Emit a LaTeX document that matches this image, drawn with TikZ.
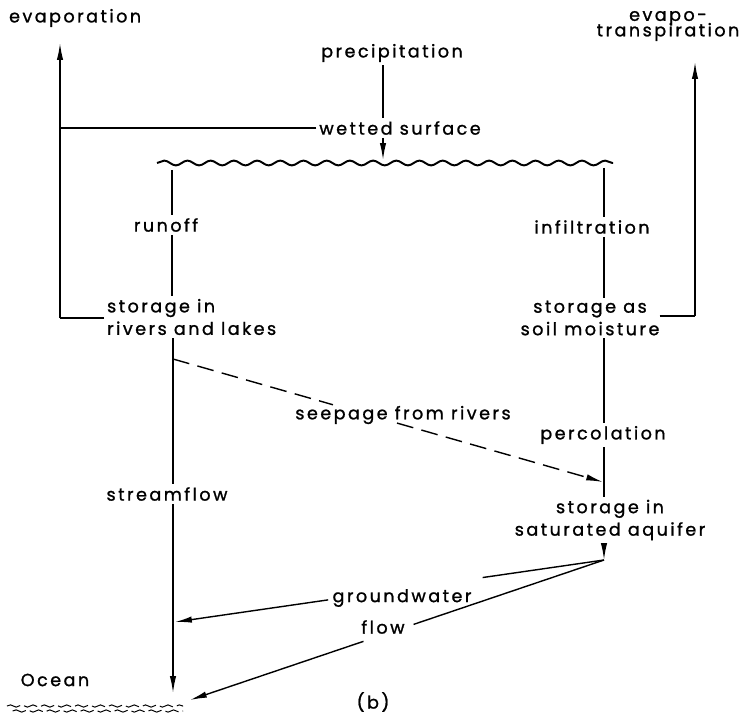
\documentclass[tikz,border=0pt]{standalone}
\usepackage{fontspec}
\setmainfont{Poppins}[LetterSpace=14,FakeBold=1.2]
\usetikzlibrary{arrows.meta,calc,decorations.pathmorphing}

\begin{document}
\begin{tikzpicture}[x=0.025cm,y=-0.025cm,
	lbl/.style={font=\fontsize{12.5}{16}\selectfont,inner sep=2pt,align=center},
	ln/.style={line width=1pt},
	arr/.style={ln,-{Latex[length=12pt,width=4.5pt]}},
	wave/.style={line width=1.4pt,decorate,decoration={snake,segment length=0.58cm,amplitude=0.06cm}},
	sea/.style={line width=0.7pt,decorate,decoration={snake,segment length=8pt,amplitude=0.8pt},dash pattern=on 10pt off 3pt}]
	\useasboundingbox (0,0) rectangle (753,715);
	% labels
	\node[lbl,anchor=west] (evap) at (6,18) {evaporation};
	\node[lbl] (evtr) at (668,26) {evapo-\\[-5pt]transpiration};
	\node[lbl] (prec) at (392,53) {precipitation};
	\node[lbl] (wet) at (400,128) {wetted surface};
	\node[lbl] (runoff) at (166,225) {runoff};
	\node[lbl] (infil) at (592,227) {infiltration};
	\node[lbl,align=left,anchor=west] (sriv) at (104,317) {storage in\\rivers and lakes};
	\node[lbl] (ssoil) at (590,318) {storage as\\soil moisture};
	\node[lbl] (perc) at (603,435) {percolation};
	\node[lbl] (stream) at (167,494) {streamflow};
	\node[lbl] (saq) at (610,520) {storage in\\saturated aquifer};
	\node[lbl] (gw) at (402,598) {groundwater};
	\node[lbl] (flw) at (383,627) {flow};
	\node[lbl] (ocean) at (55,680) {Ocean};
	\node[lbl] (cap) at (373,702) {(b)};
	% points
	\coordinate (sl) at (157,163);
	\coordinate (sr) at (613,163);
	\coordinate (sm) at (383,160);
	\coordinate (lx) at (172,170);
	\coordinate (rx) at (604,168);
	\coordinate (evb) at (60,318);
	\coordinate (evt) at (60,43);
	\coordinate (etb) at (695,316);
	\coordinate (ett) at (695,62);
	\coordinate (sa) at (173,359);
	\coordinate (sb) at (603,482);
	\coordinate (aq) at (604,560);
	\coordinate (sfj) at (175,622);
	\coordinate (sfe) at (173,693);
	\coordinate (oc) at (190,700);
	% ground surface and sea
	\draw[wave] (sl) -- (sr);
	\draw[sea] (7,706) -- (183,706);
	\draw[sea] ([xshift=4pt]7,711) -- (183,711);
	% precipitation
	\draw[ln] (prec.south -| sm) -- (wet.north -| sm);
	\draw[arr] (wet.south -| sm) -- (sm);
	% evaporation
	\draw[ln] (sriv.west |- evb) -- ++(-8pt,0) -| (evb);
	\draw[arr] (evb) -- (evt);
	\draw[ln] (wet.west) -- (wet.west -| evt);
	% evapotranspiration
	\draw[ln] ([xshift=-2pt]ssoil.east |- etb) -- (etb);
	\draw[arr] (etb) -- (ett);
	% left column
	\draw[ln] (lx) -- (runoff.north -| lx);
	\draw[ln] (runoff.south -| lx) -- (sriv.north -| lx);
	\draw[ln] (sriv.south -| sa) -- (stream.north -| sa);
	\draw[arr] (stream.south -| sa) -- (sfe);
	% right column
	\draw[ln] (rx) -- (infil.north -| rx);
	\draw[ln] (infil.south -| rx) -- (ssoil.north -| rx);
	\draw[ln] (ssoil.south -| rx) -- (perc.north -| rx);
	\draw[ln] (perc.south -| rx) -- (saq.north -| rx);
	\draw[arr] (saq.south -| aq) -- (aq);
	% seepage
	\draw[ln,dash pattern=on 12pt off 6pt] (sa) -- ($(sa)!0.372!(sb)$);
	\draw[arr,dash pattern=on 12pt off 6pt] ($(sa)!0.521!(sb)$) -- (sb);
	\node[lbl] (seep) at (403,415) {seepage from rivers};
	% groundwater flow
	\draw[ln] (aq) -- ($(aq)!0.283!(sfj)$);
	\draw[arr] ($(aq)!0.643!(sfj)$) -- (sfj);
	\draw[ln] (aq) -- ($(aq)!0.46!(oc)$);
	\draw[arr] ($(aq)!0.581!(oc)$) -- (oc);
\end{tikzpicture}
\end{document}
